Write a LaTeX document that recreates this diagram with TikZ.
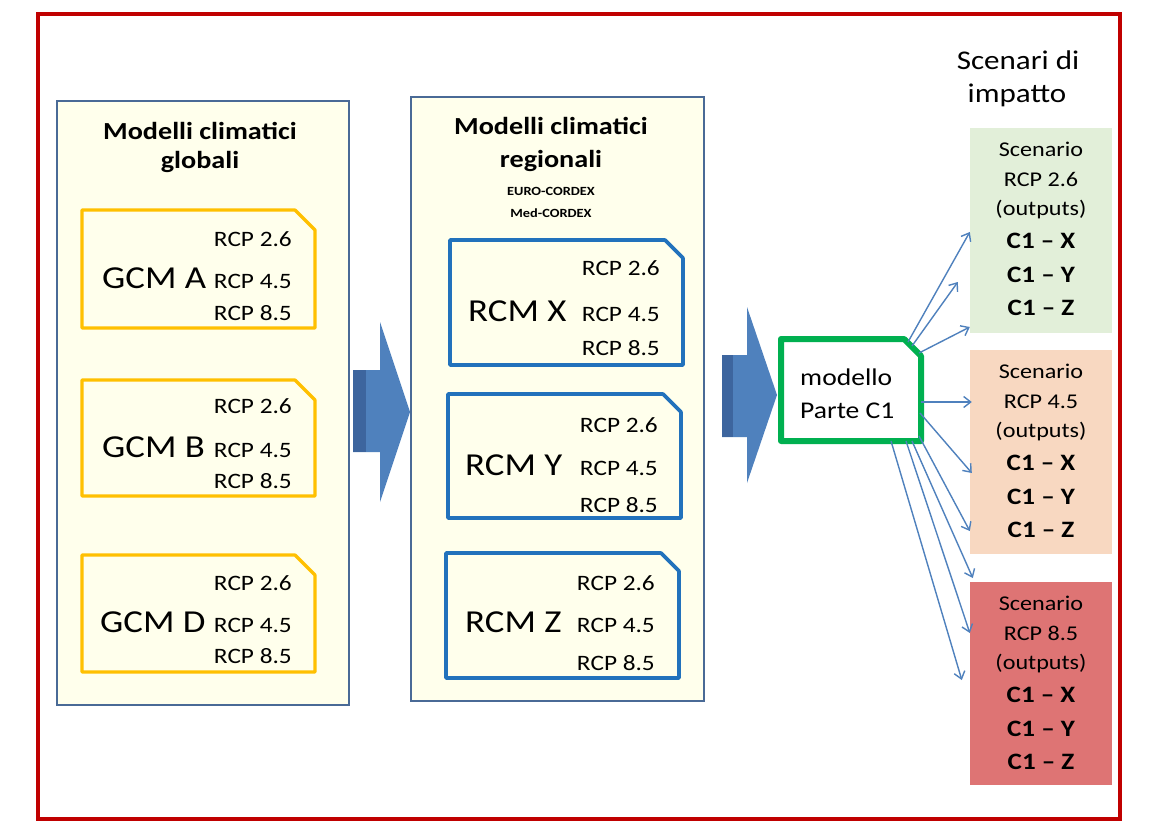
\documentclass[tikz,border=0pt]{standalone}
\usepackage{fontspec}
\setmainfont{Carlito}[FakeStretch=1.15]
\usetikzlibrary{arrows.meta,calc}
\definecolor{frameRed}{HTML}{C00000}
\definecolor{panelBlue}{HTML}{4A6A96}
\definecolor{ivory}{HTML}{FFFFEC}
\definecolor{gold}{HTML}{FFC000}
\definecolor{rcmBlue}{HTML}{2272BC}
\definecolor{modGreen}{HTML}{00B050}
\definecolor{arrowBlue}{HTML}{4F81BD}
\definecolor{arrowDark}{HTML}{3D659E}
\definecolor{scGreen}{HTML}{E2EFD9}
\definecolor{scOrange}{HTML}{F8D8C1}
\definecolor{scRed}{HTML}{DE7474}
\newcommand\snipframe[3]{\draw[#2] (#1.north west) -- ([xshift=-#3]#1.north east) -- ([yshift=-#3]#1.north east) -- (#1.south east) -- (#1.south west) -- cycle;}
\begin{document}
\begin{tikzpicture}[x=1pt,y=-1pt,
  panel/.style={draw=panelBlue, line width=2.8pt, fill=ivory, inner sep=0},
  holder/.style={inner sep=0, outer sep=0},
  gcmline/.style={draw=gold, line width=3.2pt, fill=ivory, line join=round},
  rcmline/.style={draw=rcmBlue, line width=3.6pt, fill=ivory, line join=round},
  modline/.style={draw=modGreen, line width=6pt, fill=white, line join=round},
  rcp/.style={font=\fontsize{22}{26}\selectfont, inner sep=0, anchor=base east},
  big/.style={font=\fontsize{32}{38}\selectfont, inner sep=0, anchor=base west},
  ttl/.style={font=\bfseries\fontsize{24.5}{29}\selectfont, inner sep=0, anchor=base},
  sub/.style={font=\bfseries\fontsize{12.5}{15}\selectfont, inner sep=0, anchor=base},
  head/.style={font=\fontsize{27}{32}\selectfont, inner sep=0, anchor=base},
  modt/.style={font=\fontsize{24}{29}\selectfont, inner sep=0, anchor=base west},
  sc/.style={font=\fontsize{21}{25}\selectfont, inner sep=0, anchor=base},
  scb/.style={font=\bfseries\fontsize{23.5}{28}\selectfont, inner sep=0, anchor=base},
  scbox/.style={inner sep=0, minimum width=142},
  conn/.style={draw=arrowBlue, line width=1.4pt, -{Straight Barb[length=7pt,width=11pt]}},
  bigarrow/.style={fill=arrowBlue}
]
\useasboundingbox (0,0) rectangle (1154,821);
\fill[white] (0,0) rectangle (1154,821);
\node[draw=frameRed, line width=4pt, inner sep=0, minimum width=1082.5, minimum height=804.5] (frame) at (578.75,416.75) {};

% panels
\node[panel, minimum width=292, minimum height=604] (gpanel) at (203,403) {};
\node[panel, minimum width=293, minimum height=604] (rpanel) at (557.5,399) {};

\node[ttl] (gt1) at (200,140) {Modelli climatici};
\node[ttl] (gt2) at (200,169) {globali};
\node[ttl] (rt1) at (551,135) {Modelli climatici};
\node[ttl] (rt2) at (551,168) {regionali};
\node[sub] (rt3) at (551,196) {EURO-CORDEX};
\node[sub] (rt4) at (551,218) {Med-CORDEX};

% GCM boxes
\node[holder, minimum width=233, minimum height=118] (gA) at (198.5,269) {};
\node[holder, minimum width=233, minimum height=116] (gB) at (198.5,438) {};
\node[holder, minimum width=233, minimum height=117] (gD) at (198.5,613.5) {};
\snipframe{gA}{gcmline}{20pt}
\snipframe{gB}{gcmline}{20pt}
\snipframe{gD}{gcmline}{20pt}

\node[rcp] (gA1) at (292,247) {RCP 2.6};
\node[rcp] (gA2) at (292,288) {RCP 4.5};
\node[rcp] (gA3) at (292,320) {RCP 8.5};
\node[big] (gAt) at (102,288) {GCM A};
\node[rcp] (gB1) at (292,413) {RCP 2.6};
\node[rcp] (gB2) at (292,457) {RCP 4.5};
\node[rcp] (gB3) at (292,488) {RCP 8.5};
\node[big] (gBt) at (102,457) {GCM B};
\node[rcp] (gD1) at (292,590) {RCP 2.6};
\node[rcp] (gD2) at (292,632) {RCP 4.5};
\node[rcp] (gD3) at (292,663) {RCP 8.5};
\node[big] (gDt) at (100,632) {GCM D};

% RCM boxes
\node[holder, minimum width=233, minimum height=125] (rX) at (566.5,302.5) {};
\node[holder, minimum width=233, minimum height=124] (rY) at (564.5,456) {};
\node[holder, minimum width=233, minimum height=125] (rZ) at (562.5,615.5) {};
\snipframe{rX}{rcmline}{18pt}
\snipframe{rY}{rcmline}{18pt}
\snipframe{rZ}{rcmline}{18pt}

\node[rcp] (rX1) at (660,275) {RCP 2.6};
\node[rcp] (rX2) at (660,321) {RCP 4.5};
\node[rcp] (rX3) at (660,355) {RCP 8.5};
\node[big] (rXt) at (468,321) {RCM X};
\node[rcp] (rY1) at (658,432) {RCP 2.6};
\node[rcp] (rY2) at (658,475) {RCP 4.5};
\node[rcp] (rY3) at (658,512) {RCP 8.5};
\node[big] (rYt) at (465,475) {RCM Y};
\node[rcp] (rZ1) at (655,590) {RCP 2.6};
\node[rcp] (rZ2) at (655,632) {RCP 4.5};
\node[rcp] (rZ3) at (655,670) {RCP 8.5};
\node[big] (rZt) at (465,632) {RCM Z};

% big arrows
\fill[bigarrow] (353,370) -- (380,370) -- (380,322) -- (410,412) -- (380,502) -- (380,452) -- (353,452) -- cycle;
\fill[arrowDark] (353,370) rectangle (366,452);
\fill[bigarrow] (722,355) -- (747,355) -- (747,307) -- (777,395) -- (747,483) -- (747,437) -- (722,437) -- cycle;
\fill[arrowDark] (722,355) rectangle (733,437);

% model box
\node[holder, minimum width=140, minimum height=102] (mod) at (851,390) {};
\snipframe{mod}{modline}{17pt}
\node[modt] (mod1) at (800,385) {modello};
\node[modt] (mod2) at (800,418) {Parte C1};

% scenario heading
\node[head] (h1) at (1018,70) {Scenari di};
\node[head] (h2) at (1017,103) {impatto};

% scenario boxes
\node[scbox, fill=scGreen, minimum height=205] (s26) at (1041,230.5) {};
\node[scbox, fill=scOrange, minimum height=204] (s45) at (1041,452) {};
\node[scbox, fill=scRed, minimum height=203] (s85) at (1041,683.5) {};
\foreach \n/\r in {s26/2.6, s45/4.5, s85/8.5}{
  \node[sc] (\n-a) at ($(\n.north)+(0,29)$) {Scenario};
  \node[sc] (\n-b) at ($(\n.north)+(0,59)$) {RCP \r};
  \node[sc] (\n-c) at ($(\n.north)+(0,88)$) {(outputs)};
  \node[scb] (\n-d) at ($(\n.north)+(0,121)$) {C1 – X};
  \node[scb] (\n-e) at ($(\n.north)+(0,155)$) {C1 – Y};
  \node[scb] (\n-f) at ($(\n.north)+(0,188)$) {C1 – Z};
}

% connectors
\draw[conn] ($(mod.north east)+(-13,3)$) -- ($(s26.west)+(0,1.5)$);
\draw[conn] ($(mod.north east)+(-9,7)$) -- ($(s26.west)+(-12,51.5)$);
\draw[conn] ($(mod.north east)+(-2,14)$) -- ($(s26.west)+(0,96.5)$);
\draw[conn] ($(mod.east)+(0,12)$) -- ($(s45.west)+(2,-50)$);
\draw[conn] ($(mod.east)+(-1,23)$) -- ($(s45.west)+(2,21)$);
\draw[conn] ($(mod.south east)+(-2,-5)$) -- ($(s45.west)+(0,79)$);
\draw[conn] ($(mod.south east)+(-9,0)$) -- ($(s85.west)+(3,-105.5)$);
\draw[conn] ($(mod.south east)+(-15,0)$) -- ($(s85.west)+(0,-50.5)$);
\draw[conn] ($(mod.south east)+(-30,0)$) -- ($(s85.west)+(-8,-3.5)$);
\end{tikzpicture}
\end{document}
